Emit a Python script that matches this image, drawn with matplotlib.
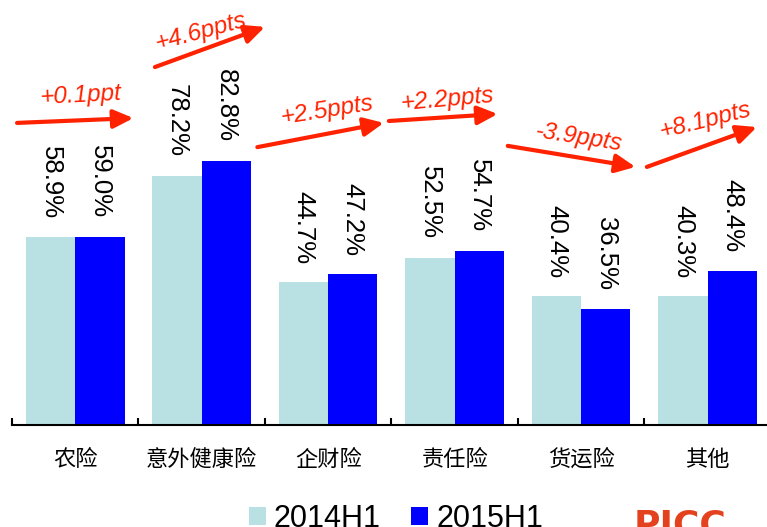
import matplotlib
matplotlib.use('Agg')
import matplotlib.pyplot as plt
import numpy as np

categories = ['农险', '意外健康险', '企财险', '责任险', '货运险', '其他']
h1_2014 = [58.9, 78.2, 44.7, 52.5, 40.4, 40.3]
h1_2015 = [59.0, 82.8, 47.2, 54.7, 36.5, 48.4]
series_names = ['2014H1', '2015H1']

# arrow layout (data coords): start, tip, label centre, label rotation
arrow_start = [(-0.46, 94.7), (0.63, 112.2), (1.44, 87.1), (2.48, 95.3), (3.42, 87.5), (4.52, 80.9)]
arrow_tip = [(0.46, 96.2), (1.50, 124.8), (2.44, 94.7), (3.34, 97.5), (4.43, 80.9), (5.39, 93.4)]
label_pos = [(0.04, 103.4), (0.99, 123.2), (1.99, 98.7), (2.94, 102.2), (3.98, 90.0), (4.98, 95.6)]
label_rot = [3, 15, 9, 5, -9, 14]

light = '#b9e0e3'
blue = '#0000ff'
red = '#ff2200'

plt.rcParams['font.family'] = ['Liberation Sans', 'Noto Sans CJK SC', 'DejaVu Sans']

fig = plt.figure(figsize=(7.67, 5.27), dpi=100)
ax = fig.add_axes([12 / 767, 102 / 527, 755 / 767, 425 / 527])

x = np.arange(len(categories))
w = 0.39
ax.bar(x - w / 2, h1_2014, w, color=light, label=series_names[0])
ax.bar(x + w / 2, h1_2015, w, color=blue, label=series_names[1])

for xs, vals in ((x - w / 2, h1_2014), (x + w / 2, h1_2015)):
    for xi, v in zip(xs, vals):
        ax.annotate(f'{v:.1f}%', (xi, v), xytext=(0, 13.3), textcoords='offset points',
                    rotation=270, ha='center', va='bottom', fontsize=18.5, color='black')

for i in range(len(categories)):
    d = round(h1_2015[i] - h1_2014[i], 1)
    unit = 'ppt' if abs(d) <= 1 else 'ppts'
    txt = f'{d:+.1f}{unit}'
    ax.annotate('', xy=arrow_tip[i], xytext=arrow_start[i],
                arrowprops=dict(arrowstyle='-|>,head_length=0.6,head_width=0.28',
                                color=red, lw=3, mutation_scale=20,
                                shrinkA=0, shrinkB=0))
    ax.text(label_pos[i][0], label_pos[i][1], txt, rotation=label_rot[i],
            ha='center', va='center', fontsize=17.5, style='italic', color=red)

ax.set_xlim(-0.5, 5.47)
ax.set_ylim(0, 425 / 3.19)
for s in ['top', 'right', 'left']:
    ax.spines[s].set_visible(False)
ax.spines['bottom'].set_linewidth(1.5)
ax.set_yticks([])
ax.set_xticks(x)
ax.set_xticklabels(categories, family=['Noto Sans CJK SC'], fontsize=16)
ax.tick_params(axis='x', which='major', length=0, pad=16.5)
ax.set_xticks(np.arange(-0.5, 5.0, 1.0), minor=True)
ax.tick_params(axis='x', which='minor', direction='in', length=5, width=1.5)

fig.legend(loc='center', bbox_to_anchor=(396 / 767, 8 / 527), ncol=2, frameon=False,
           fontsize=22, handlelength=0.56, handleheight=0.52, handletextpad=0.26,
           columnspacing=1.0, borderpad=0, borderaxespad=0)

fig.text(634 / 767, -9 / 527, 'PICC', color='#e4411e', fontsize=26, fontweight='bold',
         family='DejaVu Sans', ha='left', va='baseline')

fig.savefig('out.png', dpi=100)
